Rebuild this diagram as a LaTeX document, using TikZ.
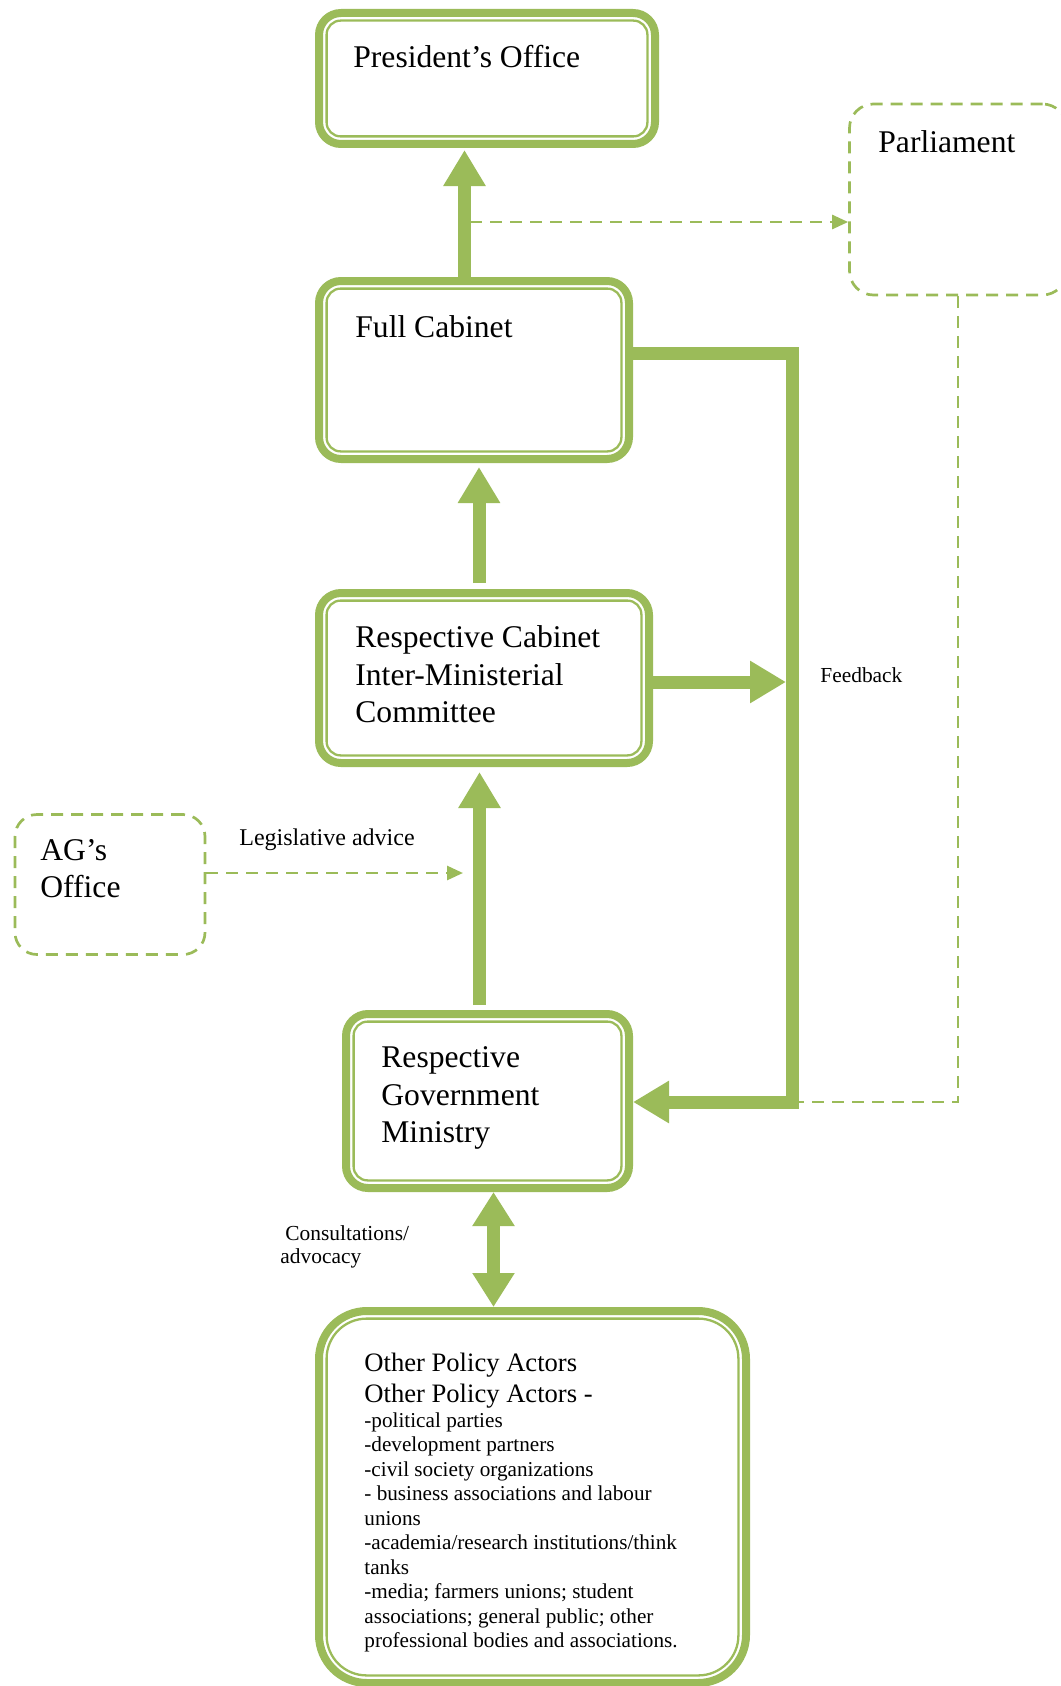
\documentclass[tikz,border=0pt]{standalone}
\usepackage{fontspec}
\setmainfont{Liberation Serif}
\usetikzlibrary{calc,arrows.meta}
\definecolor{leaf}{RGB}{155,187,89}
\newcommand\boxfont{\fontsize{15.8}{18.75}\selectfont}
\newcommand\actorfont{\fontsize{13.3}{15.5}\selectfont}
\newcommand\listfont{\fontsize{10.6}{12.25}\selectfont}
\newcommand\notefont{\fontsize{10.7}{11.5}\selectfont}
\newcommand\advicefont{\fontsize{12}{14}\selectfont}
\tikzset{
  % Boxes: a thick rim with a thin one inside, and dashed boxes
  rim box/.style={draw=leaf,line width=4pt,rounded corners=11pt,inner sep=0},
  inner rim/.style={draw=leaf,line width=1.15pt},
  dash box/.style={draw=leaf,line width=1.35pt,dash pattern=on 6pt off 4pt,rounded corners=12pt,inner sep=0},
  % Arrows: wide ones and dashed ones
  wide arrow/.style={draw=leaf,line width=6.5pt,-{Triangle[length=18pt,width=20pt]}},
  dash line/.style={draw=leaf,line width=1.35pt,dash pattern=on 6pt off 4pt},
  dash arrow/.style={dash line,-{Triangle[length=8pt,width=7pt]}},
  box text/.style={anchor=north west,inner sep=0,align=left,font=\boxfont}
}

\begin{document}
\begin{tikzpicture}[x=0.5pt,y=-0.5pt]
  \useasboundingbox (0,0) rectangle (1060,1686);
  % The boxes
  \node(pres)[rim box,minimum width=168pt,minimum height=65.5pt] at (487,78.5){};
  \node(cab)[rim box,minimum width=155pt,minimum height=89pt] at (474,370){};
  \node(imc)[rim box,minimum width=165pt,minimum height=85pt] at (484,678){};
  \node(min)[rim box,minimum width=141.5pt,minimum height=87pt] at (487.5,1101){};
  \node(oth)[rim box,rounded corners=24pt,minimum width=213.5pt,minimum height=186pt] at (532.5,1497){};
  \foreach \n/\rad in {pres/7pt,cab/7pt,imc/7pt,min/7pt,oth/20pt}
    \draw[inner rim,rounded corners=\rad]($(\n.south west)+(5.8pt,5.8pt)$)rectangle($(\n.north east)-(5.8pt,5.8pt)$);
  \node(parl)[dash box,minimum width=108.5pt,minimum height=95.5pt] at (958,199.5){};
  \node(ag)[dash box,rounded corners=11pt,minimum width=95pt,minimum height=70pt] at (110,884.5){};
  % Texts in the boxes
  \node(prestext)[box text] at (353,45.3){President’s Office};
  \node(parltext)[box text] at (878,130){Parliament};
  \node(cabtext)[box text] at (355,315.3){Full Cabinet};
  \node(imctext)[box text] at (355,625.3){Respective Cabinet\\Inter-Ministerial\\Committee};
  \node(agtext)[box text] at (40,838.6){AG’s\\Office};
  \node(mintext)[box text] at (381,1046.4){Respective\\Government\\Ministry};
  \node(othtext)[box text,align=flush left,text width=185pt] at (364,1352.7){\actorfont Other Policy Actors\\Other Policy Actors -\par
    \listfont -political parties\\-development partners\\-civil society organizations\\- business associations and labour\\unions\\-academia/research institutions/think\\tanks\\-media; farmers unions; student\\associations; general public; other\\professional bodies and associations.\par};
  % Arrows up the hierarchy
  \coordinate (tap) at (470,222);
  \draw[dash arrow](tap)--(tap -| parl.west);
  \draw[wide arrow,shorten >=1pt]([xshift=-4.75pt]cab.north)--([xshift=-4.75pt]cab.north |- pres.south);
  \draw[wide arrow,shorten <=3pt,shorten >=2pt]([xshift=-2.5pt]imc.north)--([xshift=-2.5pt]imc.north |- cab.south);
  \draw[wide arrow,shorten <=2.5pt,shorten >=2.5pt]([xshift=-4pt]min.north)--([xshift=-4pt]min.north |- imc.south);
  \draw[wide arrow,{Triangle[length=17pt,width=20pt]}-{Triangle[length=17pt,width=20pt]}]([xshift=3pt]min.south)--([xshift=3pt]min.south |- oth.north);
  % Legislative advice
  \coordinate (legtip) at (463,873);
  \draw[dash arrow](ag.east |- legtip)--(legtip);
  \node(legis)[anchor=base west,inner sep=0,font=\advicefont] at (239,845){Legislative advice};
  % Feedback loop
  \coordinate (fbtop) at (792.5,353);
  \coordinate (fbbot) at (792.5,1102);
  \draw[dash line](parl.south)|-(fbbot);
  \draw[wide arrow](cab.east |- fbtop)--(fbtop)--(fbbot)--(min.east |- fbbot);
  \draw[wide arrow,shorten >=3.25pt]([yshift=-2pt]imc.east)--([yshift=-2pt]imc.east -| fbtop);
  \node(fb)[anchor=base west,inner sep=0,font=\notefont] at (820,682){Feedback};
  % Consultations
  \node(consult)[anchor=north west,inner sep=0,align=left,font=\notefont] at (280,1225.3){\hspace*{2.5pt}Consultations/\\advocacy};
\end{tikzpicture}
\end{document}
